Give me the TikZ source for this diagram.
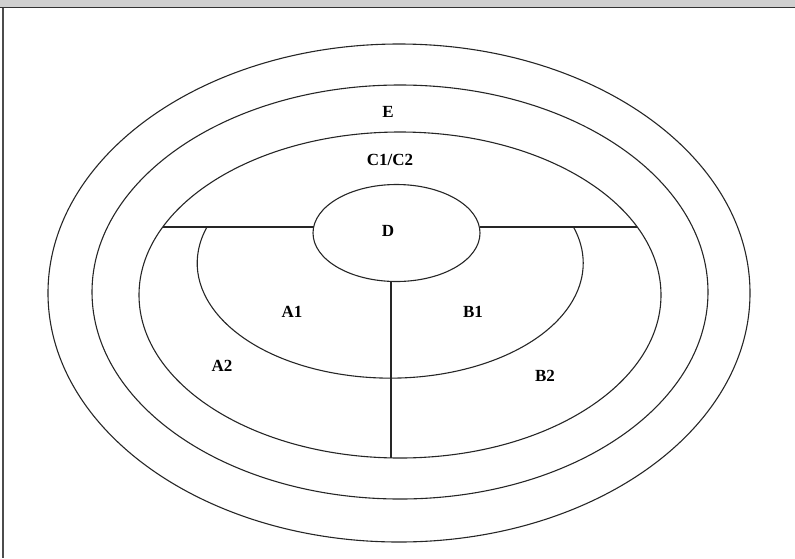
\documentclass[tikz,border=0pt]{standalone}
\usepackage{fontspec}
\setmainfont{Liberation Serif}
\usetikzlibrary{shapes.geometric}
\begin{document}
\begin{tikzpicture}[x=1pt,y=-1pt,
  ring/.style={draw=black!85, line width=1.1pt, ellipse, inner sep=0pt, outer sep=0pt},
  ln/.style={draw=black!85, line width=1.1pt},
  lab/.style={font=\fontsize{17}{17}\selectfont\bfseries, inner sep=0pt}]
\useasboundingbox (0,0) rectangle (795,558);
% frame
\fill[fill={rgb,255:red,208;green,208;blue,208}] (0,0) rectangle (795,7);
\draw[line width=1.6pt, draw=black!80] (0,7.5) -- (795,7.5);
\draw[line width=1.6pt, draw=black!70] (3,7.5) -- (3,558);
% rings
\node[ring, minimum width=702, minimum height=498] (r1) at (399,293) {};
\node[ring, minimum width=616, minimum height=414] (r2) at (400,292) {};
\node[ring, minimum width=522, minimum height=326] (r3) at (400,295) {};
\node[ring, minimum width=167, minimum height=97] (D) at (396.5,233) {};
% dividing lines
\coordinate (l1) at (163,227);
\coordinate (l2) at (313.5,227);
\coordinate (r1a) at (479.5,227);
\coordinate (r2a) at (637,227);
\coordinate (vt) at (391,281);
\coordinate (vb) at (391,458);
\draw[ln] (l1) -- (l2);
\draw[ln] (r1a) -- (r2a);
\draw[ln] (vt) -- (vb);
\coordinate (as) at (207,227);
\draw[ln] (as) arc[start angle=198.3, end angle=-18.3, x radius=193, y radius=115];
% labels
\node[lab] (E) at (388,112) {E};
\node[lab] (C) at (390,160) {C1/C2};
\node[lab] (Dl) at (388,231) {D};
\node[lab] (A1) at (292,312) {A1};
\node[lab] (B1) at (473,312) {B1};
\node[lab] (A2) at (222,366) {A2};
\node[lab] (B2) at (545,376) {B2};
\end{tikzpicture}
\end{document}
